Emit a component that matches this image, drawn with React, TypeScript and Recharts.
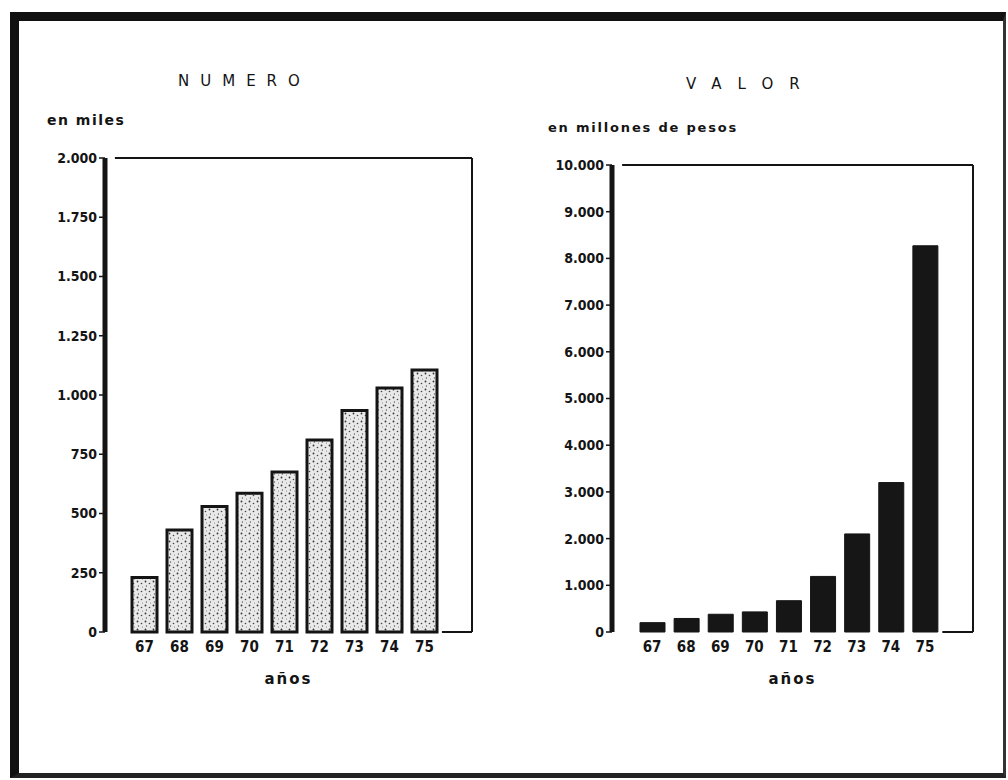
import { BarChart, Bar, XAxis, YAxis, ReferenceLine } from 'recharts'

const years = ['67', '68', '69', '70', '71', '72', '73', '74', '75']
// número, en miles
const numero = [230, 430, 530, 585, 675, 810, 935, 1030, 1105]
// valor, en millones de pesos
const valor = [200, 290, 380, 430, 670, 1190, 2100, 3200, 8270]

const numeroTicks = [0, 250, 500, 750, 1000, 1250, 1500, 1750, 2000]
const numeroTickLabels = ['0', '250', '500', '750', '1.000', '1.250', '1.500', '1.750', '2.000']
const valorTicks = [0, 1000, 2000, 3000, 4000, 5000, 6000, 7000, 8000, 9000, 10000]
const valorTickLabels = ['0', '1.000', '2.000', '3.000', '4.000', '5.000', '6.000', '7.000', '8.000', '9.000', '10.000']

// slot = running index, only used by the hidden axis that places the frame lines
const numeroData = years.map((y, i) => ({ year: y, slot: i, value: numero[i] }))
const valorData = years.map((y, i) => ({ year: y, slot: i, value: valor[i] }))

const FONT = '"DejaVu Sans Condensed", "DejaVu Sans", sans-serif'
const WIDE = '"DejaVu Sans", sans-serif'
const INK = '#141414'

const yTickStyle = { fontSize: 14, fill: INK, fontFamily: FONT, fontWeight: 600 }
const xTickStyle = { fontSize: 15, fill: INK, fontFamily: FONT, fontWeight: 600 }

interface PanelProps {
  data: { year: string; slot: number; value: number }[]
  ticks: number[]
  tickLabels: string[]
  yWidth: number
  width: number
  height: number
  plotH: number
  padding: { left: number; right: number }
  stippled: boolean
  frameStart: number
  bottomStart: number
}

function Panel(p: PanelProps) {
  const max = p.ticks[p.ticks.length - 1]
  const last = p.data.length - 1
  return (
    <BarChart
      width={p.width}
      height={p.height}
      data={p.data}
      margin={{ top: 18, right: 10, left: 0, bottom: 0 }}
      barSize={25}
    >
      <defs>
        <pattern id="stipple" width="8" height="8" patternUnits="userSpaceOnUse">
          <rect width="8" height="8" fill="#e9e9e9" />
          <circle cx="1.5" cy="1.5" r="0.9" fill="#333" />
          <circle cx="5.5" cy="3.5" r="0.8" fill="#444" />
          <circle cx="2.5" cy="6" r="0.7" fill="#555" />
          <circle cx="6.5" cy="7" r="0.5" fill="#666" />
        </pattern>
      </defs>
      <XAxis
        dataKey="year"
        axisLine={false}
        tickLine={false}
        tickMargin={3}
        padding={p.padding}
        tick={xTickStyle}
        height={p.height - 18 - p.plotH}
        label={{
          value: 'años',
          position: 'insideTop',
          offset: 41,
          style: { fontSize: 15, fill: INK, fontFamily: WIDE, fontWeight: 700, letterSpacing: 2 },
        }}
      />
      <XAxis
        xAxisId="frame"
        dataKey="slot"
        type="number"
        domain={[0, last]}
        allowDataOverflow
        hide
      />
      <YAxis
        domain={[0, max]}
        ticks={p.ticks}
        interval={0}
        width={p.yWidth}
        tickFormatter={(v: number) => p.tickLabels[p.ticks.indexOf(v)]}
        tick={yTickStyle}
        axisLine={{ stroke: INK, strokeWidth: 5 }}
        tickLine={{ stroke: INK, strokeWidth: 1.5 }}
        tickSize={6}
        tickMargin={2}
      />
      <ReferenceLine
        xAxisId="frame"
        segment={[{ x: p.frameStart * last, y: max }, { x: last, y: max }]}
        stroke={INK}
        strokeWidth={2}
        ifOverflow="visible"
      />
      <ReferenceLine
        xAxisId="frame"
        segment={[{ x: last, y: max }, { x: last, y: 0 }]}
        stroke={INK}
        strokeWidth={2}
        ifOverflow="visible"
      />
      <ReferenceLine
        xAxisId="frame"
        segment={[{ x: p.bottomStart * last, y: 0 }, { x: last, y: 0 }]}
        stroke={INK}
        strokeWidth={2}
        ifOverflow="visible"
      />
      <Bar
        dataKey="value"
        fill={p.stippled ? 'url(#stipple)' : '#161616'}
        stroke={INK}
        strokeWidth={p.stippled ? 3 : 1}
        isAnimationActive={false}
      />
    </BarChart>
  )
}

const heading = { position: 'absolute' as const, fontFamily: WIDE, color: INK }

export default function App() {
  return (
    <div style={{ position: 'absolute', left: 0, top: 0, width: 1008, height: 780, background: '#fff' }}>
      <div
        style={{
          position: 'absolute',
          left: 10,
          top: 12,
          width: 984,
          height: 752,
          borderTop: '9px solid #111',
          borderLeft: '9px solid #111',
          borderBottom: '5px solid #222',
          borderRight: '3px solid #333',
        }}
      />
      <div style={{ ...heading, left: 178, top: 72, fontSize: 15, letterSpacing: 11 }}>NUMERO</div>
      <div style={{ ...heading, left: 686, top: 75, fontSize: 15, letterSpacing: 16 }}>VALOR</div>
      <div style={{ ...heading, left: 47, top: 112, fontSize: 14, fontWeight: 700, letterSpacing: 1.5 }}>
        en miles
      </div>
      <div style={{ ...heading, left: 548, top: 120, fontSize: 13, fontWeight: 700, letterSpacing: 1.8 }}>
        en millones de pesos
      </div>
      <div style={{ position: 'absolute', left: 40, top: 140 }}>
        <Panel
          data={numeroData}
          ticks={numeroTicks}
          tickLabels={numeroTickLabels}
          yWidth={65}
          width={442}
          height={562}
          plotH={474}
          padding={{ left: 22, right: 30 }}
          stippled
          frameStart={0.027}
          bottomStart={0.918}
        />
      </div>
      <div style={{ position: 'absolute', left: 540, top: 147 }}>
        <Panel
          data={valorData}
          ticks={valorTicks}
          tickLabels={valorTickLabels}
          yWidth={72}
          width={443}
          height={560}
          plotH={467}
          padding={{ left: 23, right: 31 }}
          stippled={false}
          frameStart={0.028}
          bottomStart={0.915}
        />
      </div>
    </div>
  )
}
